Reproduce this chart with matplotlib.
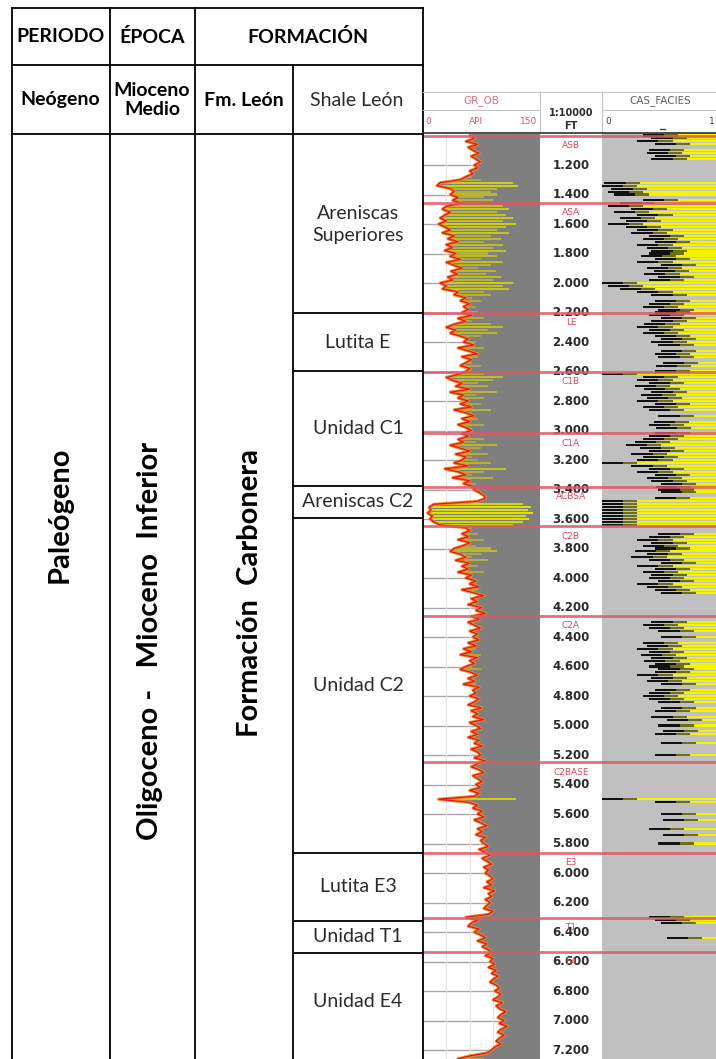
"""
Columna estratigrafica + registro de pozo (GR_OB, profundidad, CAS_FACIES).
"""
import matplotlib.pyplot as plt
import numpy as np
from matplotlib.colors import LinearSegmentedColormap, Normalize

plt.rcParams['font.family'] = ['Lato', 'DejaVu Sans']

# Tabla estratigrafica
header_cols = ['PERIODO', 'ÉPOCA', 'FORMACIÓN']
row2_cols = ['Neógeno', 'Mioceno\nMedio', 'Fm. León', 'Shale León']
body_cols = ['Paleógeno', 'Oligoceno -   Mioceno  Inferior', 'Formación  Carbonera']
unit_names = ['Areniscas\nSuperiores', 'Lutita E', 'Unidad C1', 'Areniscas C2',
              'Unidad C2', 'Lutita E3', 'Unidad T1', 'Unidad E4']
unit_tops = [1000, 2203, 2597, 3376, 3593, 5864, 6325, 6542]
unit_last_base = 7200

# Topes del pozo (ft)
top_names = ['ASB', 'ASA', 'LE', 'C1B', 'C1A', 'ACBSA', 'C2B', 'C2A', 'C2BASE', 'E3', 'T1', 'E4']
top_depths = [1000, 1458, 2200, 2600, 3020, 3380, 3650, 4255, 5250, 5865, 6305, 6535]

# GR_OB (API), una muestra cada 20 ft desde 1000 ft
gr = [
    60, 66, 55, 70, 58, 64, 72, 62, 68, 74,    # 1000
    66, 70, 60, 64, 55, 48, 22, 18, 35, 40,    # 1200
    35, 45, 38, 50, 30, 25, 35, 28, 22, 30,    # 1400
    20, 28, 35, 25, 40, 32, 45, 30, 38, 28,    # 1600
    42, 35, 48, 30, 40, 50, 36, 44, 32, 38,    # 1800
    22, 30, 25, 45, 40, 55, 48, 60, 52, 58,    # 2000
    50, 62, 45, 55, 40, 30, 42, 35, 48, 58,    # 2200
    52, 65, 45, 58, 70, 50, 62, 55, 48, 60,    # 2400
    55, 45, 30, 38, 50, 42, 60, 35, 52, 45,    # 2600
    58, 48, 62, 40, 55, 65, 50, 60, 45, 55,    # 2800
    62, 50, 58, 45, 52, 35, 48, 60, 42, 55,    # 3000
    50, 40, 58, 28, 45, 55, 38, 60, 52, 65,    # 3200
    65, 72, 78, 80, 70, 14, 8, 10, 6, 12,      # 3400
    9, 14, 22, 55, 60, 50, 58, 45, 60, 52,     # 3600
    40, 35, 48, 55, 42, 60, 50, 58, 45, 62,    # 3800
    55, 68, 60, 72, 50, 65, 78, 62, 70, 58,    # 4000
    75, 68, 80, 62, 72, 58, 66, 74, 60, 70,    # 4200
    64, 72, 58, 68, 52, 62, 48, 70, 60, 66,    # 4400
    55, 48, 62, 70, 58, 66, 52, 72, 64, 68,    # 4600
    60, 72, 66, 58, 75, 62, 70, 64, 78, 60,    # 4800
    68, 74, 62, 70, 58, 72, 66, 76, 62, 70,    # 5000
    74, 66, 80, 70, 62, 72, 78, 64, 70, 76,    # 5200
    68, 74, 60, 72, 66, 20, 58, 70, 64, 76,    # 5400
    70, 78, 66, 74, 82, 70, 76, 68, 80, 74,    # 5600
    78, 84, 72, 80, 86, 76, 82, 88, 78, 84,    # 5800
    80, 86, 90, 82, 88, 78, 92, 84, 88, 80,    # 6000
    86, 82, 78, 90, 84, 55, 70, 62, 58, 72,    # 6200
    66, 74, 80, 70, 82, 76, 84, 88, 80, 90,    # 6400
    86, 92, 84, 94, 88, 96, 90, 86, 94, 98,    # 6600
    92, 100, 96, 90, 102, 94, 98, 106, 100, 96,  # 6800
    104, 98, 108, 100, 96, 104, 98, 94, 100, 92,  # 7000
    88, 82, 60, 45,                            # 7200
]

# CAS_FACIES (0-1), borde izquierdo del relleno; 1 = sin arena
cas = [
    0.35, 0.42, 0.30, 0.45, 1, 0.40, 0.38, 0.45, 0.42, 1,         # 1000
    1, 1, 1, 1, 1, 1, 0.02, 0.0, 0.08, 0.05,                      # 1200
    0.10, 1, 0.35, 0.15, 0.05, 0.25, 0.10, 0.30, 0.15, 0.20,      # 1400
    0.05, 0.20, 0.30, 0.25, 0.40, 0.35, 0.45, 0.30, 0.38, 0.42,   # 1600
    0.40, 0.33, 0.45, 0.30, 0.50, 0.38, 0.44, 0.36, 0.48, 0.40,   # 1800
    0.0, 0.05, 0.15, 0.30, 0.42, 1, 0.45, 0.40, 0.35, 0.48,       # 2000
    0.45, 0.40, 0.50, 0.42, 0.36, 0.30, 0.40, 0.35, 0.45, 0.50,   # 2200
    0.42, 0.48, 1, 0.50, 0.45, 0.48, 1, 0.52, 0.46, 1,            # 2400
    0.45, 0.0, 0.35, 0.30, 0.40, 0.28, 0.36, 0.42, 0.33, 0.38,    # 2600
    0.30, 0.45, 0.35, 0.40, 1, 0.48, 1, 0.44, 0.40, 0.46,         # 2800
    1, 0.45, 0.40, 0.35, 0.28, 0.20, 0.32, 0.40, 0.25, 0.35,      # 3000
    0.30, 0.0, 0.25, 0.40, 0.30, 0.45, 0.38, 0.42, 0.50, 0.46,    # 3200
    0.48, 0.50, 1, 0.45, 0.0, 0.0, 0.0, 0.0, 0.0, 0.0,            # 3400
    0.0, 0.0, 0.0, 1, 1, 0.48, 0.40, 0.30, 0.42, 0.35,            # 3600
    0.45, 0.28, 0.38, 0.25, 0.40, 0.50, 0.30, 0.45, 0.35, 0.42,   # 3800
    0.40, 0.48, 0.30, 0.38, 0.45, 0.50, 1, 1, 1, 1,               # 4000
    1, 1, 1, 1, 1, 0.42, 0.35, 0.40, 0.48, 1,                     # 4200
    0.50, 1, 0.35, 0.38, 0.30, 0.40, 0.33, 0.42, 0.36, 0.45,      # 4400
    0.40, 0.48, 0.45, 0.30, 0.42, 0.38, 0.50, 1, 0.45, 0.40,      # 4600
    0.35, 0.40, 0.48, 1, 0.50, 0.45, 1, 0.42, 0.55, 1,            # 4800
    0.48, 1, 0.52, 0.45, 1, 1, 0.50, 1, 1, 1,                     # 5000
    0.45, 1, 1, 1, 1, 1, 1, 1, 1, 1,                              # 5200
    1, 1, 1, 1, 1, 0.0, 0.45, 1, 1, 1,                            # 5400
    0.50, 1, 0.52, 1, 1, 0.40, 1, 0.52, 1, 1,                     # 5600
    0.48, 1, 1, 1, 1, 1, 1, 1, 1, 1,                              # 5800
    1, 1, 1, 1, 1, 1, 1, 1, 1, 1,                                 # 6000
    1, 1, 1, 1, 1, 0.40, 0.45, 0.50, 1, 1,                        # 6200
    1, 1, 0.55, 1, 1, 1, 1, 1, 1, 1,                              # 6400
    1, 1, 1, 1, 1, 1, 1, 1, 1, 1,                                 # 6600
    1, 1, 1, 1, 1, 1, 1, 1, 1, 1,                                 # 6800
    1, 1, 1, 1, 1, 1, 1, 1, 1, 1,                                 # 7000
    1, 1, 1, 1,                                                   # 7200
]

depth = 1000 + 20 * np.arange(len(gr))
gr = np.array(gr, dtype=float)
cas = np.array(cas, dtype=float)
depth_ticks = np.arange(1200, 7201, 200)

W, H = 716, 1059
D_TOP, D_BOT = 983, 7261   # profundidad en y=133 px y y=1059 px
fig = plt.figure(figsize=(W / 100, H / 100), dpi=100)


def px_axes(x0, y0, x1, y1):
    ax = fig.add_axes([x0 / W, 1 - y1 / H, (x1 - x0) / W, (y1 - y0) / H])
    ax.set_xticks([])
    ax.set_yticks([])
    for s in ax.spines.values():
        s.set_visible(False)
    return ax


LOG_Y0 = 133

# --- Track GR ---
ax_gr = px_axes(423, LOG_Y0, 540, H)
ax_gr.set_xlim(0, 150)
ax_gr.set_ylim(D_BOT, D_TOP)
for d in depth_ticks:
    ax_gr.axhline(d, color='#a8a8a8', lw=1, zorder=0)
for v in [30, 60, 90, 120]:
    ax_gr.axvline(v, color='#e2e2e2', lw=0.8, zorder=0)
ax_gr.barh(depth, 150 - gr, left=gr, height=20, color='#7f7f7f', zorder=1)
sand_cmap = LinearSegmentedColormap.from_list('sand', ['#e2e200', '#bcbc26', '#a49c4c'])
sand_norm = Normalize(5, 58)
sand = gr < 58
ax_gr.barh(depth[sand], np.minimum(2.6 * (58 - gr[sand]), 150 - gr[sand]), left=gr[sand],
           height=14, color=sand_cmap(sand_norm(gr[sand])), zorder=2)
ax_gr.plot(gr, depth, color='#f08a30', lw=2.2, zorder=3)
ax_gr.plot(gr, depth, color='#e01a10', lw=0.9, zorder=4)

# --- Track profundidad ---
ax_dp = px_axes(540, LOG_Y0, 602, H)
ax_dp.set_xlim(0, 1)
ax_dp.set_ylim(D_BOT, D_TOP)
for d in depth_ticks:
    ax_dp.text(0.5, d, f'{d:,}'.replace(',', '.'), ha='center', va='center',
               fontsize=8.5, fontweight='bold', color='#2a2a2a', family='DejaVu Sans')

# --- Track CAS_FACIES ---
ax_fc = px_axes(602, LOG_Y0, 716, H)
ax_fc.set_facecolor('#c0c0c0')
ax_fc.set_xlim(0, 0.97)
ax_fc.set_ylim(D_BOT, D_TOP)
fac = cas < 1
ax_fc.barh(depth[fac], 1 - cas[fac], left=cas[fac], height=14, color='#f4f400', zorder=1)
ax_fc.barh(depth[fac], np.minimum(0.3, 1 - cas[fac]), left=cas[fac], height=14,
           color='#6e6e14', zorder=2)
ax_fc.barh(depth[fac], np.minimum(0.18, 1 - cas[fac]), left=cas[fac], height=14,
           color='#111111', zorder=3)

# --- Topes ---
for ax in [ax_gr, ax_dp, ax_fc]:
    for d in top_depths:
        ax.axhline(d, color='#e05566', lw=2, alpha=0.85, zorder=5)
for name, d in zip(top_names, top_depths):
    ax_dp.text(0.5, d + 35, name, ha='center', va='top', fontsize=6.5,
               color='#d04a5a', family='DejaVu Sans', zorder=6)

# --- Unidades ---
ax_un = px_axes(293, LOG_Y0, 423, H)
ax_un.patch.set_alpha(0)
ax_un.set_xlim(0, 1)
ax_un.set_ylim(D_BOT, D_TOP)
unit_bases = unit_tops[1:] + [unit_last_base]
for name, top, base in zip(unit_names, unit_tops, unit_bases):
    ax_un.text(0.5, (top + base) / 2, name, ha='center', va='center', fontsize=14,
               color='#2b2b2b', linespacing=1.35)
for top in unit_tops[1:]:
    ax_un.axhline(top, color='black', lw=1.3)

# --- Tabla y encabezados (pixeles) ---
ax = fig.add_axes([0, 0, 1, 1])
ax.set_xlim(0, W)
ax.set_ylim(H, 0)
ax.axis('off')
ax.patch.set_alpha(0)

lk = dict(color='black', lw=1.3)
for y in [8, 65, 134]:
    ax.plot([12, 423], [y, y], **lk)
for x in [12, 110, 195, 423]:
    ax.plot([x, x], [8, H], **lk)
ax.plot([293, 293], [65, H], **lk)

for txt, x in zip(header_cols, [60, 152, 308]):
    ax.text(x, 37, txt, ha='center', va='center', fontsize=14, fontweight='bold')
for txt, x in zip(row2_cols[:3], [60, 152, 244]):
    ax.text(x, 100, txt, ha='center', va='center', fontsize=14, fontweight='bold',
            linespacing=1.1)
ax.text(357, 100, row2_cols[3], ha='center', va='center', fontsize=14, color='#2b2b2b')
for txt, x, y in zip(body_cols, [60, 150, 250], [515, 641, 593]):
    ax.text(x, y, txt, ha='center', va='center', rotation=90, fontsize=21,
            fontweight='bold')

# encabezado del registro
hc = '#c4c4c4'
ax.plot([423, 716], [92, 92], color=hc, lw=0.8)
ax.plot([423, 540], [110, 110], color=hc, lw=0.8)
ax.plot([602, 716], [110, 110], color=hc, lw=0.8)
for x in [540, 602]:
    ax.plot([x, x], [92, 133], color=hc, lw=0.8)
ax.plot([423, 716], [133, 133], color='#303030', lw=1.2)
fk = dict(family='DejaVu Sans', va='center')
ax.text(481, 101, 'GR_OB', ha='center', fontsize=7.5, color='#d87480', **fk)
ax.text(425, 122, '0', ha='left', fontsize=6.5, color='#d05a66', **fk)
ax.text(476, 122, 'API', ha='center', fontsize=6.5, color='#d05a66', **fk)
ax.text(537, 122, '150', ha='right', fontsize=6.5, color='#d05a66', **fk)
ax.text(571, 113, '1:10000', ha='center', fontsize=7, fontweight='bold', color='#2a2a2a', **fk)
ax.text(571, 126, 'FT', ha='center', fontsize=7, fontweight='bold', color='#2a2a2a', **fk)
ax.text(660, 101, 'CAS_FACIES', ha='center', fontsize=7.5, color='#606060', **fk)
ax.text(605, 122, '0', ha='left', fontsize=6.5, color='#404040', **fk)
ax.text(709, 122, '1', ha='left', fontsize=6.5, color='#404040', **fk)
ax.plot([660, 665], [129, 129], color='#404040', lw=1)

fig.savefig('out.png', dpi=100, facecolor='white')
